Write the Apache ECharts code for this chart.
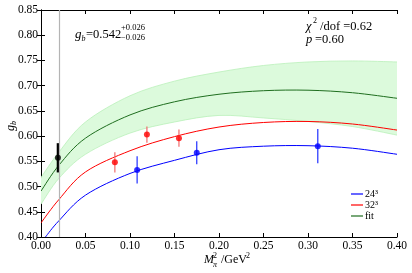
<!DOCTYPE html>
<html>
<head>
<meta charset="utf-8">
<script src="https://cdn.jsdelivr.net/npm/echarts@6/dist/echarts.min.js"></script>
<style>html,body{margin:0;padding:0;background:#fff}#c{width:412px;height:273px}</style>
</head>
<body>
<div id="c"></div>
<script>
// ---- data ----
const xTicks = [0, 0.05, 0.10, 0.15, 0.20, 0.25, 0.30, 0.35, 0.40];
const yTicks = [0.40, 0.45, 0.50, 0.55, 0.60, 0.65, 0.70, 0.75, 0.80, 0.85];

const curveX   = [0, 0.02, 0.05, 0.10, 0.15, 0.20, 0.25, 0.30, 0.35, 0.40];
const blueX    = [0.005, 0.02, 0.05, 0.10, 0.15, 0.20, 0.25, 0.30, 0.35, 0.40];
const blueY    = [0.400, 0.432, 0.483, 0.526, 0.552, 0.573, 0.580, 0.581, 0.576, 0.564];
const redY     = [0.428, 0.474, 0.529, 0.571, 0.599, 0.618, 0.627, 0.629, 0.624, 0.612];
const fitY     = [0.491, 0.542, 0.596, 0.642, 0.668, 0.683, 0.690, 0.691, 0.686, 0.675];
const bandLow  = [0.465, 0.516, 0.564, 0.606, 0.628, 0.641, 0.636, 0.629, 0.619, 0.602];
const bandHigh = [0.518, 0.568, 0.628, 0.680, 0.709, 0.727, 0.740, 0.747, 0.749, 0.747];

const pts24X = [0.108, 0.175, 0.311];
const pts24Y = [0.533, 0.567, 0.580];
const pts24E = [0.027, 0.023, 0.034];
const pts32X = [0.083, 0.119, 0.155];
const pts32Y = [0.548, 0.603, 0.596];
const pts32E = [0.020, 0.016, 0.017];
const physX = [0.019];
const physY = [0.557];
const physE = [0.029];

const legendNames = ['24\u00B3', '32\u00B3', 'fit'];

// ---- build ----
const FONT = "'Liberation Serif', 'Times New Roman', serif";
const pair = (xs, ys) => xs.map((x, i) => [x, ys[i]]);
const errData = (xs, ys, es) => xs.map((x, i) => [x, ys[i] - es[i], ys[i] + es[i]]);

function bez(pts, moveFirst) {
  let d = (moveFirst ? 'M' : 'L') + pts[0][0] + ',' + pts[0][1];
  for (let i = 0; i < pts.length - 1; i++) {
    const p0 = pts[i - 1] || pts[i], p1 = pts[i], p2 = pts[i + 1], p3 = pts[i + 2] || pts[i + 1];
    const c1 = [p1[0] + (p2[0] - p0[0]) / 6, p1[1] + (p2[1] - p0[1]) / 6];
    const c2 = [p2[0] - (p3[0] - p1[0]) / 6, p2[1] - (p3[1] - p1[1]) / 6];
    d += 'C' + c1[0] + ',' + c1[1] + ',' + c2[0] + ',' + c2[1] + ',' + p2[0] + ',' + p2[1];
  }
  return d;
}

function curveSeries(name, data, color, z) {
  return {
    type: 'custom', name: name, z: z, silent: true, clip: true, data: data,
    itemStyle: { color: color },
    renderItem: function (params, api) {
      if (params.dataIndexInside !== 0) return null;
      const pts = [];
      for (let i = 0; i < params.dataInsideLength; i++) pts.push(api.coord([api.value(0, i), api.value(1, i)]));
      return { type: 'path', shape: { pathData: bez(pts, true) },
               style: { fill: null, stroke: color, lineWidth: 1 } };
    }
  };
}

function bandSeries(data) {
  return {
    type: 'custom', z: 1, silent: true, clip: true, data: data,
    renderItem: function (params, api) {
      if (params.dataIndexInside !== 0) return null;
      const up = [], lo = [];
      for (let i = 0; i < params.dataInsideLength; i++) {
        lo.push(api.coord([api.value(0, i), api.value(1, i)]));
        up.push(api.coord([api.value(0, i), api.value(2, i)]));
      }
      const loRev = lo.slice().reverse();
      return { type: 'group', children: [
        { type: 'path', shape: { pathData: bez(up, true) + bez(loRev, false) + 'Z' },
          style: { fill: '#dcfadc', stroke: null } },
        { type: 'path', shape: { pathData: bez(up, true) }, style: { fill: null, stroke: '#b9f0b9', lineWidth: 0.8 } },
        { type: 'path', shape: { pathData: bez(lo, true) }, style: { fill: null, stroke: '#b9f0b9', lineWidth: 0.8 } }
      ] };
    }
  };
}

function errSeries(data, color, width, z) {
  return {
    type: 'custom', z: z, silent: true, data: data,
    renderItem: function (params, api) {
      const p1 = api.coord([api.value(0), api.value(1)]);
      const p2 = api.coord([api.value(0), api.value(2)]);
      return { type: 'line', shape: { x1: p1[0], y1: p1[1], x2: p2[0], y2: p2[1] },
               style: { stroke: color, lineWidth: width } };
    }
  };
}

const chart = echarts.init(document.getElementById('c'), null, { renderer: 'canvas' });
const axisCommon = {
  axisLine: { show: true, lineStyle: { color: '#000', width: 1 } },
  axisTick: { show: true, inside: true, length: 4, lineStyle: { color: '#000' } },
  splitLine: { show: false }
};
chart.setOption({
  animation: false,
  backgroundColor: '#fff',
  grid: { left: 41, right: 15, top: 10, bottom: 36 },
  xAxis: [
    Object.assign({ type: 'value', min: xTicks[0], max: xTicks[xTicks.length - 1], interval: 0.05, position: 'bottom',
      axisLabel: { color: '#000', fontFamily: FONT, fontSize: 11.5, margin: 3, formatter: v => v.toFixed(2) } }, axisCommon),
    Object.assign({ type: 'value', min: xTicks[0], max: xTicks[xTicks.length - 1], interval: 0.05, position: 'top',
      axisLabel: { show: false } }, axisCommon)
  ],
  yAxis: [
    Object.assign({ type: 'value', min: yTicks[0], max: yTicks[yTicks.length - 1], interval: 0.05, position: 'left',
      axisLabel: { color: '#000', fontFamily: FONT, fontSize: 11.5, margin: 3, formatter: v => v.toFixed(2) } }, axisCommon),
    Object.assign({ type: 'value', min: yTicks[0], max: yTicks[yTicks.length - 1], interval: 0.05, position: 'right',
      axisLabel: { show: false } }, axisCommon)
  ],
  legend: {
    orient: 'vertical', left: 351, top: 189, itemGap: 1, padding: 0,
    itemWidth: 12, itemHeight: 1.2, icon: 'rect',
    textStyle: { fontFamily: FONT, fontSize: 10, color: '#000', padding: [0, 0, 0, -3] },
    data: legendNames
  },
  series: [
    bandSeries(curveX.map((x, i) => [x, bandLow[i], bandHigh[i]])),
    { type: 'line', name: 'phys', data: [], z: 2, silent: true,
      markLine: { silent: true, symbol: 'none', label: { show: false },
        lineStyle: { color: '#b4b4b4', width: 1.2, type: 'solid' },
        data: [{ xAxis: physX[0] }] } },
    curveSeries(legendNames[0], pair(blueX, blueY), '#0000ff', 3),
    curveSeries(legendNames[1], pair(curveX, redY), '#ff0000', 3),
    curveSeries(legendNames[2], pair(curveX, fitY), '#1f6e1f', 3),
    errSeries(errData(pts24X, pts24Y, pts24E), '#2030ff', 1.2, 4),
    errSeries(errData(pts32X, pts32Y, pts32E), '#f06a6a', 1.2, 4),
    errSeries(errData(physX, physY, physE), '#000000', 2.4, 4),
    { type: 'scatter', data: pair(pts24X, pts24Y), symbol: 'circle', symbolSize: 6, z: 5, silent: true,
      itemStyle: { color: '#0000ff' } },
    { type: 'scatter', data: pair(pts32X, pts32Y), symbol: 'circle', symbolSize: 6, z: 5, silent: true,
      itemStyle: { color: '#ff0000' } },
    { type: 'scatter', data: pair(physX, physY), symbol: 'circle', symbolSize: 6, z: 5, silent: true,
      itemStyle: { color: '#000000' } }
  ],
  graphic: [
    // y axis name g_b (reads bottom to top)
    { type: 'text', x: 5, y: 131, rotation: Math.PI / 2,
      style: { text: 'g', fontFamily: FONT, fontStyle: 'italic', fontSize: 12, verticalAlign: 'top' } },
    { type: 'text', x: 10, y: 125, rotation: Math.PI / 2,
      style: { text: 'b', fontFamily: FONT, fontStyle: 'italic', fontSize: 8, verticalAlign: 'top' } },
    // x axis name
    { type: 'text', x: 204, y: 254, style: { text: 'M', fontFamily: FONT, fontStyle: 'italic', fontSize: 12 } },
    { type: 'text', x: 213, y: 261, style: { text: '\u03C0', fontFamily: FONT, fontStyle: 'italic', fontSize: 8 } },
    { type: 'text', x: 213, y: 252, style: { text: '2', fontFamily: FONT, fontSize: 8 } },
    { type: 'text', x: 221, y: 254, style: { text: '/GeV', fontFamily: FONT, fontSize: 12 } },
    { type: 'text', x: 246, y: 252, style: { text: '2', fontFamily: FONT, fontSize: 8 } },
    // g_b annotation
    { type: 'text', x: 75, y: 28, style: { text: 'g', fontFamily: FONT, fontStyle: 'italic', fontSize: 13 } },
    { type: 'text', x: 81.5, y: 35, style: { text: 'b', fontFamily: FONT, fontStyle: 'italic', fontSize: 8 } },
    { type: 'text', x: 86, y: 28, style: { text: '=0.542', fontFamily: FONT, fontSize: 12.5 } },
    { type: 'text', x: 121, y: 23, style: { text: '+0.026', fontFamily: FONT, fontSize: 8.5 } },
    { type: 'text', x: 121, y: 33, style: { text: '\u22120.026', fontFamily: FONT, fontSize: 8.5 } },
    // chi2 annotation
    { type: 'text', x: 306, y: 20, style: { text: '\u03C7', fontFamily: FONT, fontStyle: 'italic', fontSize: 12.5 } },
    { type: 'text', x: 313, y: 17, style: { text: '2', fontFamily: FONT, fontSize: 8 } },
    { type: 'text', x: 320, y: 20, style: { text: '/dof =0.62', fontFamily: FONT, fontSize: 12.5 } },
    { type: 'text', x: 306, y: 33, style: { text: 'p', fontFamily: FONT, fontStyle: 'italic', fontSize: 12.5 } },
    { type: 'text', x: 315, y: 33, style: { text: '=0.60', fontFamily: FONT, fontSize: 12.5 } }
  ]
});
</script>
</body>
</html>
